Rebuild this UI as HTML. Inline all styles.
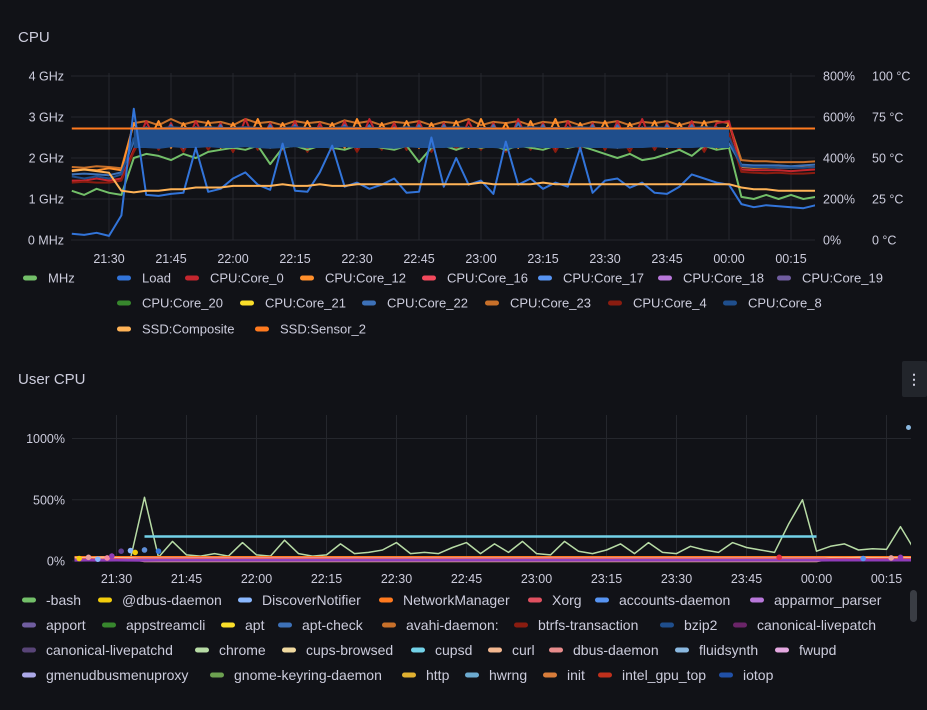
<!DOCTYPE html>
<html><head><meta charset="utf-8"><style>
html,body{margin:0;padding:0;background:#111217;width:927px;height:710px;overflow:hidden}
svg{display:block;font-family:"Liberation Sans",sans-serif}
</style></head><body>
<svg id="s" width="927" height="710">
<text x="18" y="42" fill="#ccccdc" font-size="15" font-weight="500">CPU</text>
<text x="18" y="384" fill="#ccccdc" font-size="15" font-weight="500">User CPU</text>
<rect x="902" y="361" width="25" height="36" rx="2" fill="#22252b"/>
<text x="914" y="384" fill="#ccccdc" font-size="14" text-anchor="middle" font-weight="bold">⋮</text>
<rect x="910" y="590" width="7" height="32" rx="3.5" fill="#3a3d44"/>
<defs><clipPath id="cT"><rect x="71" y="60" width="744" height="182"/></clipPath><clipPath id="cB"><rect x="72" y="400" width="839" height="163"/></clipPath></defs>
<g id="top" clip-path="url(#cT)"></g><g id="topAx"></g><g id="bot" clip-path="url(#cB)"></g><g id="botAx"></g><g id="leg"></g>
</svg>
<script>
const tickTimes=[30,45,60,75,90,105,120,135,150,165,180,195];
const tickLabels=["21:30","21:45","22:00","22:15","22:30","22:45","23:00","23:15","23:30","23:45","00:00","00:15"];
const ghzTicks=[0,1,2,3,4];
const ghzLabels=["0 MHz","1 GHz","2 GHz","3 GHz","4 GHz"];
const pctLabels=["0%","200%","400%","600%","800%"];
const degLabels=["0 °C","25 °C","50 °C","75 °C","100 °C"];
const loadPct=[30,25,35,20,120,640,220,215,225,230,450,235,250,300,330,270,245,470,240,235,330,460,260,280,250,270,300,230,235,500,260,400,270,290,225,480,270,300,250,280,260,450,230,290,300,255,280,230,225,260,320,300,280,270,175,160,170,165,160,155,170];
const core8=[1.55,1.5,1.55,1.5,1.6,2.5,2.5,2.48,2.52,2.5,2.5,2.52,2.5,2.5,2.52,2.5,2.48,2.5,2.52,2.5,2.5,2.5,2.52,2.5,2.5,2.5,2.48,2.52,2.5,2.5,2.5,2.52,2.5,2.5,2.5,2.48,2.5,2.52,2.5,2.5,2.5,2.52,2.5,2.5,2.48,2.5,2.5,2.52,2.5,2.5,2.5,2.52,2.5,2.5,1.8,1.78,1.78,1.76,1.76,1.76,1.78];
const core22=[1.6,1.62,1.6,1.58,1.65,2.4,2.75,2.3,2.8,2.25,2.75,2.3,2.8,2.3,2.75,2.35,2.8,2.3,2.8,2.3,2.75,2.35,2.8,2.3,2.8,2.3,2.75,2.3,2.8,2.25,2.8,2.35,2.75,2.3,2.8,2.3,2.85,2.3,2.8,2.3,2.75,2.3,2.8,2.3,2.8,2.35,2.75,2.3,2.8,2.3,2.8,2.3,2.75,2.35,1.84,1.82,1.82,1.82,1.8,1.82,1.84];
const core0=[1.45,1.45,1.5,1.45,1.5,2.2,2.9,2.25,2.85,2.2,2.9,2.3,2.85,2.15,2.95,2.25,2.85,2.3,2.9,2.2,2.85,2.25,2.9,2.2,2.95,2.3,2.85,2.2,2.9,2.25,2.85,2.2,2.9,2.3,2.85,2.2,2.95,2.25,2.85,2.2,2.9,2.3,2.85,2.2,2.9,2.25,2.95,2.2,2.85,2.3,2.9,2.2,2.85,2.9,1.72,1.7,1.7,1.7,1.68,1.7,1.72];
const core12=[1.7,1.72,1.7,1.75,1.7,2.85,2.3,2.9,2.25,2.85,2.3,2.9,2.25,2.85,2.3,2.95,2.25,2.85,2.3,2.9,2.3,2.85,2.25,2.95,2.3,2.85,2.3,2.9,2.25,2.85,2.3,2.9,2.25,2.95,2.3,2.85,2.25,2.9,2.3,2.95,2.25,2.85,2.3,2.9,2.25,2.85,2.3,2.9,2.25,2.85,2.3,2.9,2.25,2.85,1.78,1.76,1.77,1.76,1.76,1.77,1.78];
const core4=[1.4,1.42,1.4,1.4,1.45,2.15,2.7,2.2,2.65,2.15,2.7,2.2,2.65,2.15,2.7,2.2,2.65,2.2,2.7,2.15,2.65,2.2,2.7,2.15,2.65,2.2,2.7,2.2,2.65,2.15,2.7,2.2,2.65,2.2,2.7,2.15,2.65,2.2,2.7,2.15,2.65,2.2,2.7,2.2,2.65,2.15,2.7,2.2,2.65,2.2,2.7,2.15,2.65,2.6,1.66,1.64,1.63,1.64,1.62,1.62,1.64];
const core23=[1.78,1.76,1.8,1.78,1.75,2.85,2.9,2.8,2.95,2.82,2.9,2.85,2.88,2.8,2.95,2.85,2.88,2.8,2.9,2.85,2.88,2.8,2.92,2.85,2.9,2.8,2.88,2.85,2.9,2.8,2.88,2.85,2.95,2.8,2.88,2.85,2.9,2.8,2.88,2.85,2.9,2.8,2.88,2.85,2.9,2.8,2.88,2.85,2.9,2.8,2.88,2.85,2.9,2.85,1.95,1.92,1.92,1.9,1.9,1.9,1.92];
const mhz=[1.2,1.1,1.25,1.15,1.1,2.0,2.1,2.05,1.95,2.1,2.0,2.15,2.2,2.25,2.2,2.3,1.85,2.25,2.3,2.2,2.3,2.25,2.2,2.3,2.3,2.25,2.2,2.3,1.9,2.25,2.3,2.2,2.3,2.25,2.3,2.2,2.3,2.25,2.2,2.3,2.25,2.3,2.2,2.1,2.0,2.1,1.95,2.0,2.1,2.2,2.05,2.3,2.2,2.25,1.05,1.0,1.1,1.0,1.1,1.0,1.05];
const ssdComp=[42,43,42,41,30,29,30,30,31,31,32,32,32,33,33,33,33,34,33,33,34,33,33,34,34,34,34,34,34,34,34,34,34,35,34,34,34,34,35,34,34,34,34,34,34,34,34,34,34,34,34,34,34,34,32,31,31,30,30,30,30];
const ssdSensT=[21,201];
const ssdSensC=[68,68];
const pctTicksB=[0,500,1000];
const pctLabelsB=["0%","500%","1000%"];
const chrome=[10,15,10,12,20,520,30,160,50,40,60,40,150,50,40,170,60,40,50,140,60,70,90,150,60,70,60,110,150,60,140,70,160,60,50,160,80,60,90,140,60,150,70,60,120,90,70,150,110,90,70,300,500,80,120,140,90,100,95,280,90];
const cupsdT=[36,180];
const cupsdV=[200,200];
const xorgV=[12,15,10,14,12,12,12,12,12,12,12,12,12,12,12,12,12,12,12,12,12,12,12,12,12,12,12,12,12,12,12,12,12,12,12,12,12,12,12,12,12,12,12,12,12,12,12,12,12,12,12,12,12,12,14,15,14,14,15,14,14];
const apportV=[5,6,5,6,5,4,5,5,5,5,5,5,5,5,5,5,5,5,5,5,5,5,5,5,5,5,5,5,5,5,5,5,5,5,5,5,5,5,5,5,5,5,5,5,5,5,5,5,5,5,5,5,5,5,6,6,6,6,6,6,6];
const curlV=[22,18,25,20,20,2,2,2,2,2,2,2,2,2,2,2,2,2,2,2,2,2,2,2,2,2,2,2,2,2,2,2,2,2,2,2,2,2,2,2,2,2,2,2,2,2,2,2,2,2,2,2,2,2,20,18,22,20,18,22,20];
const dbusT=[21,201];
const dbusV=[20,20];
const nmT=[21,201];
const nmV=[30,30];
const bashT=[21,201];
const bashV=[8,8];
const dotT=[22,24,26,28,29,31,33,34,36,39,172,190,196,198];
const dotV=[20,30,15,25,40,80,85,70,90,80,30,20,25,30];
const dotC=["#f2cc0c","#e8a0a0","#8ab8ff","#f58aa0","#8f3bb8","#5f3e8f","#8ab8ff","#f2cc0c","#5f8fd8","#3274d9","#e02f44","#5794f2","#e8a0a0","#8f3bb8"];
const fullDotT=[201];
const fullDotV=[1090];

const NS="http://www.w3.org/2000/svg";
function mk(tag,attrs,parent){const e=document.createElementNS(NS,tag);for(const k in attrs)e.setAttribute(k,attrs[k]);parent.appendChild(e);return e;}
const topG=document.getElementById('top'),topAx=document.getElementById('topAx'),botG=document.getElementById('bot'),botAx=document.getElementById('botAx'),legG=document.getElementById('leg');
const sampleT=i=>21+3*i;
const xT=t=>109+(t-30)*62/15;
const yG=g=>240-g*41;
const yP=p=>yG(p/200);
const yC=c=>yG(c*0.04);
ghzTicks.forEach((g,i)=>{
  const l=mk('line',{x1:71,x2:815,y1:yG(g),y2:yG(g),stroke:'#25272d','stroke-width':1},topG);
  
  
  const a=mk('text',{x:64,y:yG(g)+4.5,fill:'#ccccdc','font-size':12.5,'text-anchor':'end'},topAx);a.textContent=ghzLabels[i];
  
  
  const b=mk('text',{x:823,y:yG(g)+4.5,fill:'#ccccdc','font-size':12.5},topAx);b.textContent=pctLabels[i];
  
  
  const c=mk('text',{x:872,y:yG(g)+4.5,fill:'#ccccdc','font-size':12.5},topAx);c.textContent=degLabels[i];
  
  
});
tickTimes.forEach((t,i)=>{
  const l=mk('line',{x1:xT(t),x2:xT(t),y1:73,y2:240,stroke:'#25272d','stroke-width':1},topG);
  
  
  const a=mk('text',{x:xT(t),y:263,fill:'#ccccdc','font-size':12.5,'text-anchor':'middle'},topAx);a.textContent=tickLabels[i];
  
  
});
function series(parent,ts,vs,yf,xf,color,w,name,from,to){
  from=from||0;to=(to===undefined)?vs.length-1:to;
  let d='';
  for(let i=from;i<=to;i++)d+=(i>from?'L':'M')+xf(ts[i]).toFixed(1)+' '+yf(vs[i]).toFixed(1)+' ';
  const p=mk('path',{d:d,fill:'none',stroke:color,'stroke-width':w,'stroke-linejoin':'round'},parent);
  
  
}
const ti=core8.map((_,i)=>sampleT(i));
series(topG,ti,core23,yG,xT,'#c8702a',2,'series-core-23');
series(topG,ti,core12,yG,xT,'#ff8f2b',2,'series-core-12');
series(topG,ti,core0,yG,xT,'#c4262e',2,'series-core-0');
series(topG,ti,core4,yG,xT,'#8a1c10',2,'series-core-4');
series(topG,ti,mhz,yG,xT,'#73bf69',2,'series-mhz');
series(topG,ti,core22,yG,xT,'#3d71b8',2,'series-core-22');
series(topG,ti,core8,yG,xT,'#1f4e8c',2,'series-core-8',0,5);
series(topG,ti,core8,yG,xT,'#1f4e8c',21,'series-core-8-busy',5,53);
series(topG,ti,core8,yG,xT,'#1f4e8c',2,'series-core-8-idle',53,60);
series(topG,ti,loadPct,yP,xT,'#3274d9',2,'series-load');
series(topG,ti,ssdComp,yC,xT,'#ffb357',2,'series-ssd-composite');
series(topG,ssdSensT,ssdSensC,yC,xT,'#ff7a1f',2,'series-ssd-sensor-2');
const xB=t=>116.5+(t-30)*70/15;
const yB=p=>561-p*0.1225;
pctTicksB.forEach((p,i)=>{
  const l=mk('line',{x1:72,x2:911,y1:yB(p),y2:yB(p),stroke:'#25272d','stroke-width':1},botG);
  
  
  const a=mk('text',{x:65,y:yB(p)+4.5,fill:'#ccccdc','font-size':12.5,'text-anchor':'end'},botAx);a.textContent=pctLabelsB[i];
  
  
});
tickTimes.forEach((t,i)=>{
  const l=mk('line',{x1:xB(t),x2:xB(t),y1:415,y2:561,stroke:'#25272d','stroke-width':1},botG);
  
  
  const a=mk('text',{x:xB(t),y:583,fill:'#ccccdc','font-size':12.5,'text-anchor':'middle'},botAx);a.textContent=tickLabels[i];
  
  
});
series(botG,ti,chrome,yB,xB,'#b7dba5',1.5,'series-chrome');
series(botG,nmT,nmV,yB,xB,'#ff7a1f',2.5,'series-networkmanager');
series(botG,dbusT,dbusV,yB,xB,'#e88c8c',3,'series-dbus-daemon');
series(botG,ti,curlV,yB,xB,'#f4b890',3,'series-curl');
series(botG,ti,xorgV,yB,xB,'#e05060',2.5,'series-xorg');
series(botG,bashT,bashV,yB,xB,'#5794f2',2,'series-bash');
series(botG,ti,apportV,yB,xB,'#8f3bb8',2.5,'series-apport');
series(botG,cupsdT,cupsdV,yB,xB,'#73d2e8',2.5,'series-cupsd');
dotT.forEach((t,i)=>{
  const c=mk('circle',{cx:xB(t),cy:yB(dotV[i]),r:2.8,fill:dotC[i]},botG);
  
  
});
fullDotT.forEach((t,i)=>{
  const c=mk('circle',{cx:xB(t)-6,cy:yB(fullDotV[i]),r:2.5,fill:'#8ab8e0'},botG);
  
  
});
const topLegend=[
 ["MHz","#73bf69",23,278],["Load","#3274d9",117,278],["CPU:Core_0","#c4262e",185,278],["CPU:Core_12","#ff8f2b",300,278],["CPU:Core_16","#f2495c",422,278],["CPU:Core_17","#5794f2",538,278],["CPU:Core_18","#b877d9",658,278],["CPU:Core_19","#705da0",777,278],
 ["CPU:Core_20","#37872d",117,303],["CPU:Core_21","#fade2a",240,303],["CPU:Core_22","#3d71b8",362,303],["CPU:Core_23","#c8702a",485,303],["CPU:Core_4","#8a1c10",608,303],["CPU:Core_8","#1f4e8c",723,303],
 ["SSD:Composite","#ffb357",117,329],["SSD:Sensor_2","#ff7a1f",255,329]];
const botLegend=[
 ["-bash","#73bf69",22,600],["@dbus-daemon","#f2cc0c",98,600],["DiscoverNotifier","#8ab8ff",238,600],["NetworkManager","#ff7a1f",379,600],["Xorg","#e05060",528,600],["accounts-daemon","#5794f2",595,600],["apparmor_parser","#b877d9",750,600],
 ["apport","#705da0",22,625],["appstreamcli","#37872d",102,625],["apt","#fade2a",221,625],["apt-check","#3d71b8",278,625],["avahi-daemon:","#c8702a",382,625],["btrfs-transaction","#8a1c10",514,625],["bzip2","#1f4e8c",660,625],["canonical-livepatch","#6a2468",733,625],
 ["canonical-livepatchd","#584477",22,650],["chrome","#b7dba5",195,650],["cups-browsed","#f0d9a0",282,650],["cupsd","#73d2e8",411,650],["curl","#f4b890",488,650],["dbus-daemon","#e88c8c",549,650],["fluidsynth","#8ab8e0",675,650],["fwupd","#e4a8e0",775,650],
 ["gmenudbusmenuproxy","#aca8e8",22,675],["gnome-keyring-daemon","#6ca050",210,675],["http","#e0b030",402,675],["hwrng","#6caad0",465,675],["init","#d87c3a",543,675],["intel_gpu_top","#c0301c",598,675],["iotop","#2050a8",719,675]];
topLegend.forEach(([n,c,x,y])=>{
  const r=mk('rect',{x:x,y:y-2.5,width:14,height:5,rx:2.5,fill:c},legG);
  
  
  const t=mk('text',{x:x+25,y:y+4.5,fill:'#ccccdc','font-size':13},legG);t.textContent=n;
  
  
});
botLegend.forEach(([n,c,x,y])=>{
  const r=mk('rect',{x:x,y:y-2.5,width:14,height:5,rx:2.5,fill:c},legG);
  
  
  const t=mk('text',{x:x+24,y:y+5,fill:'#ccccdc','font-size':14},legG);t.textContent=n;
  
  
});
</script>
</body></html>
